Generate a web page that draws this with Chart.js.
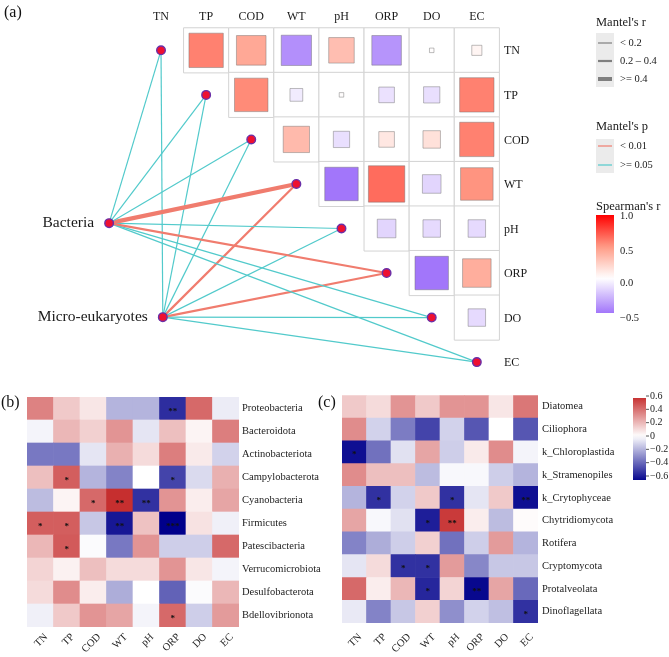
<!DOCTYPE html>
<html>
<head>
<meta charset="utf-8">
<script src="https://cdn.jsdelivr.net/npm/chart.js@4.4.0/dist/chart.umd.min.js"></script>
<style>
body { margin: 0; background: #fff; width: 669px; height: 657px; position: relative; overflow: hidden; font-family: 'Liberation Serif', serif; }
canvas { position: absolute; }
.tag { position: absolute; font-size: 16px; color: #111; line-height: 1; }
</style>
</head>
<body>
<canvas id="mantel" width="669" height="385" style="left:0;top:0"></canvas>
<canvas id="heatB" width="335" height="272" style="left:0;top:385px"></canvas>
<canvas id="heatC" width="334" height="272" style="left:335px;top:385px"></canvas>
<div class="tag" style="left:4px;top:4px">(a)</div>
<div class="tag" style="left:1px;top:394px">(b)</div>
<div class="tag" style="left:318px;top:394px">(c)</div>
<script>
// Environmental factors
const envVars = ['TN', 'TP', 'COD', 'WT', 'pH', 'ORP', 'DO', 'EC'];

// Spearman's r between factors (row i against the factors after it)
const spearman = [
    [0.58, 0.43, -0.45, 0.32, -0.43, 0.01, 0.05],
    [0.55, -0.08, 0.01, -0.12, -0.13, 0.58],
    [0.34, -0.13, 0.12, 0.15, 0.58],
    [-0.55, 0.65, -0.17, 0.52],
    [-0.17, -0.15, -0.15],
    [-0.55, 0.40],
    [-0.15]
];

// Mantel test of each community against each factor
const communities = ['Bacteria', 'Micro-eukaryotes'];
const mantelRBacteria = [0.12, 0.11, 0.13, 0.46, 0.12, 0.30, 0.10, 0.12];
const mantelPBacteria = [0.21, 0.35, 0.18, 0.001, 0.27, 0.004, 0.30, 0.42];
const mantelREuk = [0.10, 0.12, 0.11, 0.29, 0.12, 0.28, 0.10, 0.13];
const mantelPEuk = [0.40, 0.31, 0.26, 0.003, 0.19, 0.006, 0.50, 0.33];

// Heatmap (b): bacteria phyla
const bacteriaTaxa = ['Proteobacteria', 'Bacteroidota', 'Actinobacteriota', 'Campylobacterota', 'Cyanobacteria',
    'Firmicutes', 'Patescibacteria', 'Verrucomicrobiota', 'Desulfobacterota', 'Bdellovibrionota'];
const bacteriaR = [
    [0.35, 0.15, 0.07, -0.20, -0.20, -0.56, 0.42, -0.05],
    [-0.03, 0.20, 0.13, 0.30, -0.07, 0.18, 0.03, 0.36],
    [-0.36, -0.36, -0.07, 0.22, 0.10, 0.36, 0.06, -0.12],
    [0.18, 0.45, -0.20, -0.33, 0.00, -0.50, -0.10, 0.22],
    [-0.18, 0.03, 0.42, 0.58, -0.55, 0.30, 0.05, 0.25],
    [0.45, 0.45, -0.15, -0.62, 0.17, -0.68, 0.08, -0.04],
    [0.20, 0.46, -0.01, -0.36, 0.30, -0.13, -0.13, 0.42],
    [0.12, 0.04, 0.18, 0.10, 0.10, 0.30, 0.07, -0.03],
    [0.10, 0.32, 0.05, -0.22, 0.00, -0.42, -0.01, 0.20],
    [-0.04, 0.15, 0.30, 0.25, -0.03, 0.42, -0.13, 0.28]
];
const bacteriaSig = [
    ['', '', '', '', '', '**', '', ''],
    ['', '', '', '', '', '', '', ''],
    ['', '', '', '', '', '', '', ''],
    ['', '*', '', '', '', '*', '', ''],
    ['', '', '*', '**', '**', '', '', ''],
    ['*', '*', '', '**', '', '***', '', ''],
    ['', '*', '', '', '', '', '', ''],
    ['', '', '', '', '', '', '', ''],
    ['', '', '', '', '', '', '', ''],
    ['', '', '', '', '', '*', '', '']
];

// Heatmap (c): micro-eukaryote groups
const eukTaxa = ['Diatomea', 'Ciliophora', 'k_Chloroplastida', 'k_Stramenopiles', 'k_Crytophyceae',
    'Chytridiomycota', 'Rotifera', 'Cryptomycota', 'Protalveolata', 'Dinoflagellata'];
const eukR = [
    [0.15, 0.10, 0.30, 0.15, 0.30, 0.30, 0.07, 0.38],
    [0.32, -0.12, -0.35, -0.50, -0.12, -0.45, 0.00, -0.45],
    [-0.64, -0.38, -0.08, 0.25, -0.13, 0.06, 0.32, -0.03],
    [0.32, 0.18, 0.18, -0.18, -0.02, -0.02, -0.13, -0.20],
    [-0.20, -0.55, -0.12, 0.15, -0.55, -0.07, 0.15, -0.64],
    [0.25, -0.02, -0.08, -0.60, 0.55, 0.05, -0.18, 0.01],
    [-0.33, -0.22, -0.13, 0.13, -0.38, -0.13, 0.28, -0.20],
    [-0.07, 0.10, -0.55, -0.55, 0.28, -0.32, -0.15, -0.15],
    [0.42, 0.05, 0.20, -0.58, 0.12, -0.66, 0.25, -0.40],
    [-0.06, -0.33, -0.15, 0.13, -0.30, -0.12, -0.17, -0.55]
];
const eukSig = [
    ['', '', '', '', '', '', '', ''],
    ['', '', '', '', '', '', '', ''],
    ['*', '', '', '', '', '', '', ''],
    ['', '', '', '', '', '', '', ''],
    ['', '*', '', '', '*', '', '', '**'],
    ['', '', '', '*', '**', '', '', ''],
    ['', '', '', '', '', '', '', ''],
    ['', '', '*', '*', '', '', '', ''],
    ['', '', '', '*', '', '**', '', ''],
    ['', '', '', '', '', '', '', '*']
];
const heatTicks = [0.6, 0.4, 0.2, 0, -0.2, -0.4, -0.6];

const SERIF = '"Liberation Serif", "Times New Roman", serif';

// colour helpers
function hexToRgb(h) {
    return [parseInt(h.slice(1, 3), 16), parseInt(h.slice(3, 5), 16), parseInt(h.slice(5, 7), 16)];
}
function mix(a, b, t) {
    const ca = hexToRgb(a), cb = hexToRgb(b);
    const c = ca.map((v, i) => Math.round(v + (cb[i] - v) * t));
    return `rgb(${c[0]},${c[1]},${c[2]})`;
}
function spearmanColor(r) {
    if (r >= 0) {
        return r <= 0.5 ? mix('#FFFFFF', '#FF9A85', r / 0.5) : mix('#FF9A85', '#FF0000', Math.min(1, (r - 0.5) / 0.5));
    }
    return mix('#FFFFFF', '#A276FA', Math.min(1, -r / 0.55));
}
function heatColor(v) {
    if (v >= 0) return mix('#FFFFFF', '#C42828', Math.min(1, v / 0.6));
    return mix('#FFFFFF', '#00008B', Math.min(1, -v / 0.68));
}

// ---------- Panel (a) ----------
const UNIT = 45.9;
const nodePos = [{ x: -1.15, y: 3.88 }, { x: 0.04, y: 5.99 }];

function cellPx(chart) {
    const xs = chart.scales.x;
    return Math.abs(xs.getPixelForValue(1) - xs.getPixelForValue(0));
}

const gridPoints = [];
const squarePoints = [];
spearman.forEach((row, i) => {
    row.forEach((r, k) => {
        gridPoints.push({ x: i + 1 + k, y: i });
        squarePoints.push({ x: i + 1 + k, y: i, r: r });
    });
});

function edgeWidth(r) {
    if (r < 0.2) return 1.2;
    if (r < 0.4) return 2.2;
    return 4.2;
}
function edgeColor(p) {
    return p < 0.01 ? '#F07C6E' : '#52CACB';
}

const edgeSets = [];
[[mantelRBacteria, mantelPBacteria], [mantelREuk, mantelPEuk]].forEach(([rs, ps], c) => {
    envVars.forEach((v, i) => {
        edgeSets.push({
            data: [nodePos[c], { x: i, y: i }],
            showLine: true,
            borderColor: edgeColor(ps[i]),
            borderWidth: edgeWidth(rs[i]),
            pointRadius: 0,
            order: 2
        });
    });
});

const nodePoints = envVars.map((v, i) => ({ x: i, y: i })).concat(nodePos);

const mantelDecor = {
    id: 'mantelDecor',
    afterDraw(chart) {
        const { ctx, scales: { x, y } } = chart;
        ctx.save();
        ctx.fillStyle = '#1a1a1a';
        ctx.textBaseline = 'middle';
        ctx.font = '12px ' + SERIF;
        ctx.textAlign = 'center';
        envVars.forEach((v, i) => ctx.fillText(v, x.getPixelForValue(i), y.getPixelForValue(-0.76)));
        ctx.textAlign = 'left';
        envVars.forEach((v, i) => ctx.fillText(v, x.getPixelForValue(7.6), y.getPixelForValue(i) + 1));
        ctx.font = '15.5px ' + SERIF;
        ctx.textAlign = 'right';
        communities.forEach((name, c) => {
            ctx.fillText(name, x.getPixelForValue(nodePos[c].x) - 15, y.getPixelForValue(nodePos[c].y));
        });

        // legends
        ctx.textAlign = 'left';
        ctx.font = '12.5px ' + SERIF;
        ctx.fillText("Mantel's r", 596, 23);
        ctx.fillText("Mantel's p", 596, 127);
        ctx.fillText("Spearman's r", 596, 207);

        ctx.fillStyle = '#EBEBEB';
        ctx.fillRect(596, 33, 18, 54);
        ctx.fillRect(596, 139, 18, 34);

        ctx.font = '10.5px ' + SERIF;
        const rKeys = [['< 0.2', 1.2, 43], ['0.2 \u2013 0.4', 2.2, 61], ['>= 0.4', 4, 79]];
        rKeys.forEach(([lab, w, yy]) => {
            ctx.strokeStyle = '#7F7F7F';
            ctx.lineWidth = w;
            ctx.beginPath(); ctx.moveTo(598, yy); ctx.lineTo(612, yy); ctx.stroke();
            ctx.fillStyle = '#1a1a1a';
            ctx.fillText(lab, 620, yy);
        });
        const pKeys = [['< 0.01', edgeColor(0.001), 146], ['>= 0.05', edgeColor(0.5), 165]];
        pKeys.forEach(([lab, col, yy]) => {
            ctx.strokeStyle = col;
            ctx.lineWidth = 1.2;
            ctx.beginPath(); ctx.moveTo(598, yy); ctx.lineTo(612, yy); ctx.stroke();
            ctx.fillStyle = '#1a1a1a';
            ctx.fillText(lab, 620, yy);
        });

        // Spearman colour bar
        const top = 215, bot = 313, vTop = 1.0, vBot = -0.55;
        const grad = ctx.createLinearGradient(0, top, 0, bot);
        for (let s = 0; s <= 20; s++) {
            const v = vTop + (vBot - vTop) * s / 20;
            grad.addColorStop(s / 20, spearmanColor(v));
        }
        ctx.fillStyle = grad;
        ctx.fillRect(596, top, 18, bot - top);
        ctx.fillStyle = '#1a1a1a';
        [['1.0', 216], ['0.5', 251], ['0.0', 283], ['\u22120.5', 318]].forEach(([lab, yy]) => ctx.fillText(lab, 620, yy));
        ctx.restore();
    }
};

new Chart(document.getElementById('mantel'), {
    type: 'scatter',
    data: {
        datasets: [
            {
                data: nodePoints,
                pointRadius: 4.3,
                pointBackgroundColor: '#EE1030',
                pointBorderColor: '#6A2FA8',
                pointBorderWidth: 1.4,
                order: 0
            },
            ...edgeSets,
            {
                data: squarePoints,
                pointStyle: 'rect',
                pointRadius: ctx => cellPx(ctx.chart) * Math.sqrt(Math.abs(ctx.raw.r)) / (2 * Math.SQRT1_2),
                pointBackgroundColor: ctx => spearmanColor(ctx.raw.r),
                pointBorderColor: 'rgba(110,110,110,0.45)',
                pointBorderWidth: 1,
                order: 3
            },
            {
                data: gridPoints,
                pointStyle: 'rect',
                pointRadius: ctx => cellPx(ctx.chart) / (2 * Math.SQRT1_2),
                pointBackgroundColor: '#FFFFFF',
                pointBorderColor: '#D3D3D3',
                pointBorderWidth: 1,
                order: 4
            }
        ]
    },
    options: {
        responsive: false,
        animation: false,
        events: [],
        layout: { padding: 0 },
        plugins: { legend: { display: false }, tooltip: { enabled: false } },
        scales: {
            x: { type: 'linear', display: false, min: -158 / UNIT, max: -158 / UNIT + 669 / UNIT },
            y: { type: 'linear', display: false, reverse: true, min: -46 / UNIT, max: -46 / UNIT + 385 / UNIT }
        }
    },
    plugins: [mantelDecor]
});

// ---------- Panels (b) and (c) ----------
function starPlugin(taxa, sig) {
    return {
        id: 'stars',
        afterDatasetsDraw(chart) {
            const { ctx, scales: { x, y } } = chart;
            ctx.save();
            ctx.fillStyle = '#111';
            ctx.font = 'bold 9px ' + SERIF;
            ctx.textAlign = 'center';
            ctx.textBaseline = 'alphabetic';
            sig.forEach((row, ri) => {
                row.forEach((s, ci) => {
                    if (!s) return;
                    ctx.fillText(s, x.getPixelForValue(ci), y.getPixelForValue(taxa.length - ri - 0.5) + 5);
                });
            });
            ctx.restore();
        }
    };
}

const colorBarPlugin = {
    id: 'heatBar',
    afterDraw(chart) {
        const ctx = chart.ctx;
        const x0 = 298, w = 13, top = 13, bot = 95, vTop = 0.57, vBot = -0.66;
        const pxPer = (bot - top) / (vTop - vBot);
        ctx.save();
        const grad = ctx.createLinearGradient(0, top, 0, bot);
        for (let s = 0; s <= 20; s++) {
            const v = vTop + (vBot - vTop) * s / 20;
            grad.addColorStop(s / 20, heatColor(v));
        }
        ctx.fillStyle = grad;
        ctx.fillRect(x0, top, w, bot - top);
        ctx.strokeStyle = '#555';
        ctx.lineWidth = 1;
        ctx.fillStyle = '#222';
        ctx.font = '10px ' + SERIF;
        ctx.textBaseline = 'middle';
        ctx.textAlign = 'left';
        heatTicks.forEach(v => {
            const yy = top + (vTop - v) * pxPer;
            ctx.beginPath(); ctx.moveTo(x0 + w, yy); ctx.lineTo(x0 + w + 3, yy); ctx.stroke();
            ctx.fillText(String(v).replace('-', '\u2212'), x0 + w + 4, yy);
        });
        ctx.restore();
    }
};

function buildHeatmap(id, taxa, values, sig, pad, extra) {
    const datasets = taxa.map((t, ri) => ({
        label: t,
        data: envVars.map(() => 1),
        backgroundColor: values[ri].map(heatColor),
        borderWidth: 0,
        barPercentage: 1,
        categoryPercentage: 1
    })).reverse();
    const tickFont = { family: SERIF, size: 10.5 };
    return new Chart(document.getElementById(id), {
        type: 'bar',
        data: { labels: envVars, datasets },
        options: {
            responsive: false,
            animation: false,
            events: [],
            layout: { padding: { left: pad.left, top: pad.top, right: 0, bottom: 0 } },
            plugins: { legend: { display: false }, tooltip: { enabled: false } },
            scales: {
                x: {
                    stacked: true,
                    grid: { display: false, drawTicks: false },
                    border: { display: false },
                    ticks: {
                        minRotation: 45, maxRotation: 45, padding: pad.xGap, labelOffset: 6,
                        color: '#222', font: tickFont
                    },
                    afterFit: s => { s.height = pad.bottom; }
                },
                y: {
                    stacked: true,
                    position: 'right',
                    min: 0,
                    max: taxa.length,
                    grid: { display: false, drawTicks: false },
                    border: { display: false },
                    afterBuildTicks: s => { s.ticks = taxa.map((_, i) => ({ value: i + 0.5 })); },
                    ticks: {
                        autoSkip: false,
                        padding: pad.labelGap,
                        color: '#222',
                        font: tickFont,
                        callback: v => taxa[taxa.length - 1 - Math.floor(v)]
                    },
                    afterFit: s => { s.width = pad.right; }
                }
            }
        },
        plugins: [starPlugin(taxa, sig)].concat(extra)
    });
}

buildHeatmap('heatB', bacteriaTaxa, bacteriaR, bacteriaSig,
    { left: 27, top: 12, right: 96, bottom: 30, labelGap: 3, xGap: 4 }, []);
buildHeatmap('heatC', eukTaxa, eukR, eukSig,
    { left: 7, top: 10, right: 131, bottom: 34, labelGap: 4, xGap: 8 }, [colorBarPlugin]);
</script>
</body>
</html>
